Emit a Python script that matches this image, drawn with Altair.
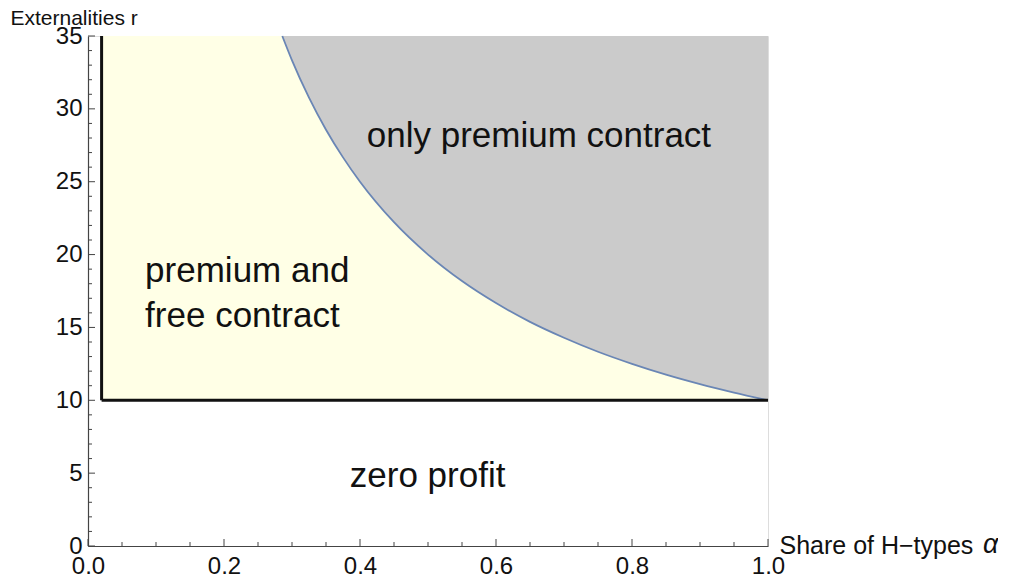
import altair as alt
import pandas as pd

# boundary curve (alpha, r)
curve_alpha = [0.2857, 0.30, 0.325, 0.35, 0.375, 0.40, 0.45, 0.50, 0.55, 0.60,
               0.65, 0.70, 0.75, 0.80, 0.85, 0.90, 0.95, 1.00]
curve_r = [35.0, 33.33, 30.77, 28.57, 26.67, 25.0, 22.22, 20.0, 18.18, 16.67,
           15.38, 14.29, 13.33, 12.5, 11.76, 11.11, 10.53, 10.0]

# regions
region_alpha_start = 0.02
region_alpha_end = 1.0
region_r_low = 10.0
region_r_high = 35.0

# axis ticks
x_major = [0.0, 0.2, 0.4, 0.6, 0.8, 1.0]
x_minor = [0.05, 0.10, 0.15, 0.25, 0.30, 0.35, 0.45, 0.50, 0.55, 0.65, 0.70,
           0.75, 0.85, 0.90, 0.95]
y_major = [0, 5, 10, 15, 20, 25, 30, 35]
y_minor = [1, 2, 3, 4, 6, 7, 8, 9, 11, 12, 13, 14, 16, 17, 18, 19, 21, 22, 23,
           24, 26, 27, 28, 29, 31, 32, 33, 34]

# annotations
label_text = ["only premium contract", "premium and", "free contract", "zero profit"]
label_alpha = [0.41, 0.084, 0.084, 0.385]
label_r = [27.4, 18.1, 15.0, 4.05]

# x-axis title pieces
xtitle_text = "Share of H\u2212types"
xtitle_symbol = "\u03b1"
xtitle_symbol_alpha = [1.316]
xtitle_symbol_r = [-0.48]

W, H = 680, 510
FONT = "Liberation Sans"

xs = alt.Scale(domain=[0, 1], nice=False, zero=False)
ys = alt.Scale(domain=[0, 35], nice=False, zero=False)

curve_df = pd.DataFrame({"alpha": curve_alpha, "r": curve_r,
                         "top": [region_r_high] * len(curve_alpha)})
region_df = pd.DataFrame({"a0": [region_alpha_start], "a1": [region_alpha_end],
                          "r0": [region_r_low], "r1": [region_r_high]})

x_enc_axis = alt.X("a0:Q", scale=xs, axis=alt.Axis(
    values=x_major, format=".1f", ticks=False, grid=False, domain=True,
    domainColor="#444444", domainWidth=1.2, labelFont=FONT, labelFontSize=24,
    labelColor="#111111", labelPadding=8, labelOverlap=False, labelFlush=False,
    title=xtitle_text, titleFont=FONT, titleFontSize=25,
    titleFontWeight="normal", titleColor="#111111", titleX=691, titleY=7,
    titleAlign="left", titleBaseline="alphabetic", titleAnchor="start"))
y_enc_axis = alt.Y("r0:Q", scale=ys, axis=alt.Axis(
    values=y_major, format="d", ticks=False, grid=False, domain=True,
    domainColor="#444444", domainWidth=1.2, labelFont=FONT, labelFontSize=24,
    labelColor="#111111", labelPadding=6, labelOverlap=False, labelFlush=False,
    title="Externalities r", titleFont=FONT, titleFontSize=21,
    titleFontWeight="normal", titleColor="#111111", titleAngle=0, titleX=-78,
    titleY=-12, titleAlign="left", titleBaseline="alphabetic", titleAnchor="start"))

yellow = alt.Chart(region_df).mark_rect(color="#FFFFE6").encode(
    x=x_enc_axis, x2="a1:Q", y=y_enc_axis, y2="r1:Q")

gray = alt.Chart(curve_df).mark_area(color="#CBCBCB", interpolate="monotone").encode(
    x=alt.X("alpha:Q", scale=xs), y=alt.Y("r:Q", scale=ys), y2="top:Q")

line = alt.Chart(curve_df).mark_line(color="#6A86B5", strokeWidth=1.8,
                                     interpolate="monotone").encode(
    x=alt.X("alpha:Q", scale=xs), y=alt.Y("r:Q", scale=ys))

vline = alt.Chart(region_df).mark_rule(color="#111111", strokeWidth=3).encode(
    x=alt.X("a0:Q", scale=xs), y=alt.Y("r0:Q", scale=ys), y2="r1:Q")
hline = alt.Chart(region_df).mark_rule(color="#111111", strokeWidth=3).encode(
    x=alt.X("a0:Q", scale=xs), x2="a1:Q", y=alt.Y("r0:Q", scale=ys))

xmaj = alt.Chart(pd.DataFrame({"t": x_major})).mark_rule(color="#444444", strokeWidth=1).encode(
    x=alt.X("t:Q", scale=xs), y=alt.value(H), y2=alt.value(H - 7))
xmin = alt.Chart(pd.DataFrame({"t": x_minor})).mark_rule(color="#444444", strokeWidth=1).encode(
    x=alt.X("t:Q", scale=xs), y=alt.value(H), y2=alt.value(H - 4))
ymaj = alt.Chart(pd.DataFrame({"t": y_major})).mark_rule(color="#444444", strokeWidth=1).encode(
    y=alt.Y("t:Q", scale=ys), x=alt.value(0), x2=alt.value(7))
ymin = alt.Chart(pd.DataFrame({"t": y_minor})).mark_rule(color="#444444", strokeWidth=1).encode(
    y=alt.Y("t:Q", scale=ys), x=alt.value(0), x2=alt.value(4))

labels = alt.Chart(pd.DataFrame({"text": label_text, "alpha": label_alpha, "r": label_r})).mark_text(
    font=FONT, fontSize=35, color="#111111", align="left", baseline="alphabetic").encode(
    x=alt.X("alpha:Q", scale=xs), y=alt.Y("r:Q", scale=ys), text="text:N")

sym = alt.Chart(pd.DataFrame({"text": [xtitle_symbol], "alpha": xtitle_symbol_alpha,
                              "r": xtitle_symbol_r})).mark_text(
    font=FONT, fontSize=27, fontStyle="italic", color="#111111", align="left",
    baseline="alphabetic").encode(
    x=alt.X("alpha:Q", scale=xs), y=alt.Y("r:Q", scale=ys), text="text:N")

chart = alt.layer(yellow, gray, line, vline, hline, xmaj, xmin, ymaj, ymin, labels, sym).properties(
    width=W, height=H,
    autosize=alt.AutoSizeParams(type="none"),
    padding={"left": 80, "top": 28, "right": 230, "bottom": 37},
).configure_view(stroke=None).configure(background="white")

chart.save("out.html", embed_options={"renderer": "svg", "actions": False})
